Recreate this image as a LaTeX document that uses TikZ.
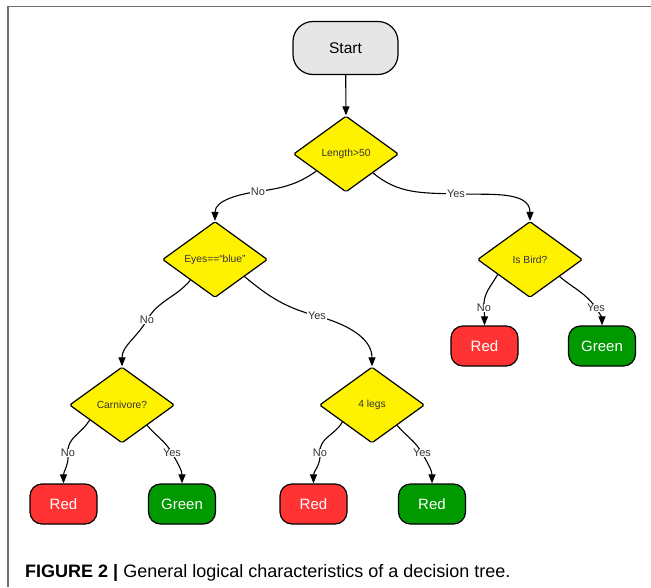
\documentclass[tikz,border=0pt]{standalone}
\usepackage{fontspec}
\setmainfont{Liberation Sans}
\usetikzlibrary{shapes.geometric,arrows.meta}
\definecolor{leafred}{HTML}{FF3333}
\definecolor{leafgreen}{HTML}{009900}
\definecolor{startgray}{HTML}{E6E6E6}
\definecolor{framegray}{HTML}{707070}
\definecolor{txtgray}{HTML}{333333}
\begin{document}
\begin{tikzpicture}[x=1pt,y=-1pt,
  dec/.style={diamond, draw=black, line width=1.2pt, fill=yellow, minimum width=105pt,
    minimum height=76pt, inner sep=0pt, rounded corners=1.5pt, text=txtgray,
    font=\fontsize{10.3}{12}\selectfont},
  leaf/.style={rectangle, rounded corners=12pt, draw=black, line width=1.2pt,
    minimum width=67pt, minimum height=40pt, text=white, font=\fontsize{15}{18}\selectfont},
  redleaf/.style={leaf, fill=leafred},
  greenleaf/.style={leaf, fill=leafgreen},
  startbox/.style={rectangle, rounded corners=20pt, draw=black, line width=1.2pt, fill=startgray,
    minimum width=105pt, minimum height=53pt, font=\fontsize{15.5}{18}\selectfont},
  arr/.style={line width=1.1pt, -{Triangle[length=9pt,width=7pt]}},
  lbl/.style={fill=white, inner sep=0.6pt, text=txtgray, font=\fontsize{11}{13}\selectfont},
  frame/.style={draw=framegray, line width=1.6pt}
]
\useasboundingbox (0,0) rectangle (651,587);
\fill[white] (0,0) rectangle (651,587);
% frame
\coordinate (f1) at (8,587);
\coordinate (f2) at (8,6.5);
\coordinate (f3) at (651,6.5);
\draw[frame] (f1) -- (f2) -- (f3);

% nodes
\node[startbox] (S) at (345.5,48) {Start};
\node[dec] (L) at (346,154) {Length>50};
\node[dec] (E) at (215,259.5) {Eyes==“blue”};
\node[dec] (B) at (530,259.5) {Is Bird?};
\node[dec] (C) at (122,405) {Carnivore?};
\node[dec] (F) at (372,405) {4 legs};
\node[redleaf] (BR) at (484.5,346) {Red};
\node[greenleaf] (BG) at (602,346) {Green};
\node[redleaf] (CR) at (63.5,504) {Red};
\node[greenleaf] (CG) at (182,504) {Green};
\node[redleaf] (FR) at (313.5,504) {Red};
\node[greenleaf] (FG) at (432,504) {Red};

% label coordinates
\coordinate (cN1) at (258,191.5);
\coordinate (cY1) at (456,194);
\coordinate (cN2) at (147,320);
\coordinate (cY2) at (317,316);
\coordinate (cN3) at (484,308);
\coordinate (cY3) at (596,308);
\coordinate (cN4) at (68,453);
\coordinate (cY4) at (172,453);
\coordinate (cN5) at (320,453);
\coordinate (cY5) at (422,453);

% connectors
\draw[arr] (S) -- (L.north);
\draw[arr] (L.210) to[out=215,in=8] (cN1) to[out=188,in=90] (E.north);
\draw[arr] (L.-35) to[out=-40,in=178] (cY1) to[out=-2,in=90] (B.north);
\draw[arr] (E.220) to[out=230,in=60] (cN2) to[out=240,in=90] (C.north);
\draw[arr] (E.-30) to[out=-40,in=165] (cY2) to[out=-15,in=90] (F.north);
\draw[arr] (B.205) to[out=240,in=95] (cN3) to[out=-85,in=90] (BR.north);
\draw[arr] (B.-30) to[out=-40,in=125] (cY3) to[out=-55,in=90] (BG.north);
\draw[arr] (C.205) to[out=240,in=95] (cN4) to[out=-85,in=90] (CR.north);
\draw[arr] (C.-39) to[out=-50,in=120] (cY4) to[out=-60,in=90] (CG.north);
\draw[arr] (F.210) to[out=240,in=95] (cN5) to[out=-85,in=90] (FR.north);
\draw[arr] (F.-39) to[out=-50,in=120] (cY5) to[out=-60,in=90] (FG.north);

% labels
\node[lbl] (tN1) at (cN1) {No};
\node[lbl] (tY1) at (cY1) {Yes};
\node[lbl] (tN2) at (cN2) {No};
\node[lbl] (tY2) at (cY2) {Yes};
\node[lbl] (tN3) at (cN3) {No};
\node[lbl] (tY3) at (cY3) {Yes};
\node[lbl] (tN4) at (cN4) {No};
\node[lbl] (tY4) at (cY4) {Yes};
\node[lbl] (tN5) at (cN5) {No};
\node[lbl] (tY5) at (cY5) {Yes};

% caption
\node[anchor=base west, inner sep=0pt, font=\fontsize{18}{21}\selectfont] (cap) at (25,577)
  {\textbf{FIGURE 2 |} General logical characteristics of a decision tree.};
\end{tikzpicture}
\end{document}
